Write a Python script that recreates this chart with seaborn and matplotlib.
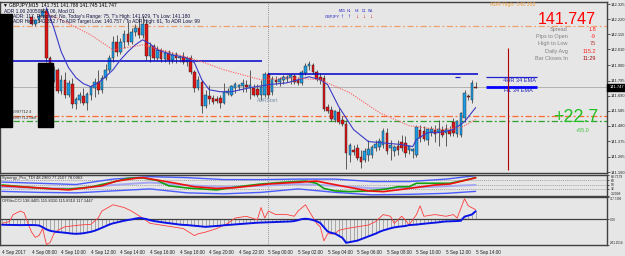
import numpy as np
import pandas as pd
import matplotlib
matplotlib.use("Agg")
import matplotlib.pyplot as plt
import seaborn as sns
from matplotlib.patches import Rectangle

# ---------------- data ----------------
bar_index = list(range(8, 129))
opens = [142.236, 142.187, 142.215, 142.242, 142.277, 141.952, 141.800, 141.869, 141.724, 141.800,
         141.697, 141.773, 141.634, 141.662, 141.690, 141.641, 141.697, 141.745, 141.786, 141.731,
         141.814, 141.869, 141.952, 142.063, 141.994, 142.063, 142.118, 142.063, 142.132, 142.160,
         142.111, 142.187, 141.966, 142.035, 141.952, 142.007, 141.945, 141.987, 141.938, 141.973,
         141.952, 141.959, 141.925, 141.952, 141.855, 141.745, 141.786, 141.621, 141.690, 141.676,
         141.669, 141.676, 141.641, 141.710, 141.697, 141.745, 141.752, 141.759, 141.766, 141.745,
         141.745, 141.738, 141.697, 141.697, 141.842, 141.717, 141.800, 141.786, 141.800, 141.807,
         141.814, 141.828, 141.800, 141.779, 141.849, 141.897, 141.904, 141.855, 141.821, 141.814,
         141.614, 141.593, 141.524, 141.579, 141.524, 141.496, 141.282, 141.316, 141.330, 141.268,
         141.247, 141.282, 141.282, 141.330, 141.337, 141.351, 141.434, 141.330, 141.303, 141.344,
         141.372, 141.365, 141.316, 141.303, 141.282, 141.455, 141.448, 141.386, 141.441, 141.455,
         141.441, 141.455, 141.434, 141.455, 141.510, 141.427, 141.420, 141.538, 141.690, 141.662,
         141.751]
highs = [142.249, 142.222, 142.256, 142.298, 142.298, 141.966, 141.897, 141.883, 141.835, 141.855,
         141.800, 141.814, 141.683, 141.717, 141.745, 141.717, 141.766, 141.814, 141.869, 141.835,
         141.911, 141.973, 142.104, 142.111, 142.090, 142.146, 142.201, 142.160, 142.187, 142.229,
         142.242, 142.215, 142.063, 142.049, 142.035, 142.021, 142.007, 142.007, 141.994, 141.994,
         141.973, 141.994, 141.966, 141.973, 141.869, 141.828, 141.800, 141.731, 141.766, 141.697,
         141.690, 141.697, 141.779, 141.745, 141.766, 141.786, 141.773, 141.807, 141.800, 141.869,
         141.773, 141.773, 141.800, 141.855, 141.855, 141.828, 141.828, 141.821, 141.835, 141.835,
         141.842, 141.842, 141.821, 141.869, 141.918, 141.929, 141.918, 141.869, 141.849, 141.835,
         141.634, 141.621, 141.593, 141.607, 141.551, 141.524, 141.365, 141.351, 141.358, 141.316,
         141.330, 141.386, 141.351, 141.386, 141.399, 141.469, 141.469, 141.386, 141.351, 141.386,
         141.420, 141.413, 141.351, 141.330, 141.489, 141.489, 141.482, 141.469, 141.482, 141.489,
         141.524, 141.482, 141.496, 141.482, 141.538, 141.524, 141.579, 141.731, 141.703, 141.800,
         141.788]
lows = [142.180, 142.173, 142.201, 142.229, 141.925, 141.773, 141.786, 141.710, 141.703, 141.676,
        141.683, 141.607, 141.600, 141.641, 141.627, 141.593, 141.662, 141.683, 141.703, 141.710,
        141.800, 141.855, 141.925, 141.966, 141.980, 142.021, 142.042, 142.049, 142.104, 142.090,
        142.090, 141.938, 141.925, 141.938, 141.938, 141.925, 141.925, 141.911, 141.918, 141.918,
        141.925, 141.911, 141.897, 141.842, 141.717, 141.731, 141.572, 141.607, 141.634, 141.634,
        141.641, 141.607, 141.634, 141.697, 141.690, 141.710, 141.731, 141.717, 141.717, 141.669,
        141.690, 141.683, 141.662, 141.683, 141.676, 141.697, 141.766, 141.759, 141.773, 141.786,
        141.773, 141.773, 141.766, 141.766, 141.835, 141.869, 141.842, 141.793, 141.773, 141.586,
        141.572, 141.517, 141.510, 141.496, 141.482, 141.180, 141.227, 141.282, 141.247, 141.192,
        141.227, 141.234, 141.261, 141.303, 141.316, 141.330, 141.289, 141.247, 141.275, 141.282,
        141.303, 141.268, 141.289, 141.261, 141.268, 141.372, 141.379, 141.351, 141.413, 141.372,
        141.344, 141.406, 141.344, 141.413, 141.413, 141.406, 141.406, 141.510, 141.662, 141.641,
        141.745]
closes = [142.187, 142.215, 142.242, 142.277, 141.952, 141.800, 141.869, 141.724, 141.800, 141.697,
          141.773, 141.634, 141.662, 141.690, 141.641, 141.697, 141.745, 141.786, 141.731, 141.814,
          141.869, 141.952, 142.063, 141.994, 142.063, 142.118, 142.063, 142.132, 142.160, 142.111,
          142.187, 141.966, 142.035, 141.952, 142.007, 141.945, 141.987, 141.938, 141.973, 141.952,
          141.959, 141.925, 141.952, 141.855, 141.745, 141.800, 141.621, 141.690, 141.669, 141.648,
          141.655, 141.641, 141.717, 141.724, 141.752, 141.766, 141.759, 141.773, 141.752, 141.759,
          141.697, 141.697, 141.745, 141.842, 141.697, 141.807, 141.786, 141.807, 141.821, 141.821,
          141.835, 141.786, 141.779, 141.855, 141.897, 141.911, 141.855, 141.807, 141.800, 141.600,
          141.586, 141.531, 141.579, 141.510, 141.496, 141.296, 141.344, 141.303, 141.261, 141.234,
          141.303, 141.316, 141.330, 141.351, 141.372, 141.441, 141.310, 141.344, 141.330, 141.316,
          141.330, 141.296, 141.337, 141.316, 141.469, 141.399, 141.393, 141.455, 141.455, 141.427,
          141.455, 141.420, 141.455, 141.427, 141.434, 141.510, 141.565, 141.710, 141.683, 141.773,
          141.747]

ma_fast_idx = [12, 14, 16, 18, 20, 22, 24, 26, 28, 30, 32, 34, 36, 38, 40, 42, 46, 50, 52, 54,
               56, 59, 62, 67, 72, 77, 83, 86, 88, 91, 95, 99, 102, 108, 111, 112, 115, 118, 122,
               125, 128]
ma_fast_val = [142.298, 142.160, 141.994, 141.883, 141.814, 141.773, 141.752, 141.779, 141.821,
               141.869, 141.938, 141.994, 142.042, 142.077, 142.049, 142.007, 141.973, 141.952,
               141.918, 141.800, 141.731, 141.717, 141.717, 141.745, 141.766, 141.779, 141.821,
               141.800, 141.766, 141.614, 141.455, 141.372, 141.365, 141.351, 141.337, 141.386,
               141.434, 141.434, 141.455, 141.510, 141.607]
ma_slow_idx = [12, 16, 24, 30, 38, 45, 54, 60, 70, 78, 86, 94, 102, 110, 118, 124, 128]
ma_slow_val = [142.256, 142.215, 142.111, 142.007, 142.042, 141.994, 141.925, 141.869, 141.800,
               141.814, 141.800, 141.710, 141.572, 141.482, 141.455, 141.469, 141.524]

level_names = ["upper_dd", "pivot_r", "pivot_g", "y_high", "d_line", "ema4h", "ema1h", "bid"]
level_vals = [142.173, 141.551, 141.517, 141.928, 141.842, 141.821, 141.752, 141.747]

price_ticks = [142.325, 142.220, 142.115, 142.010, 141.900, 141.795, 141.690, 141.585,
               141.480, 141.375, 141.265, 141.160]

tdi_green_idx = [0, 8, 14, 18, 24, 30, 34, 38, 42, 45, 50, 54, 58, 62, 66, 70, 76, 82, 85, 87,
                 90, 94, 99, 104, 107, 110, 112, 121, 124, 128]
tdi_green_val = [48, 38, 32, 31, 40, 60, 75, 77, 66, 45, 36, 32, 28, 37, 45, 52, 59, 64, 55, 34,
                 24, 21, 24, 32, 41, 41, 55, 55, 64, 78.1]
tdi_red_idx = [0, 9, 18, 27, 31, 36, 38, 42, 47, 52, 58, 63, 72, 81, 85, 88, 94, 99, 103, 108,
               112, 117, 121, 128]
tdi_red_val = [45, 37, 28, 45, 64, 75, 78, 68, 55, 41, 34, 37, 52, 60, 64, 55, 38, 24, 21, 30,
               38, 48, 52, 77.2]
tdi_band_idx = [0, 10, 20, 30, 40, 50, 60, 70, 80, 90, 100, 110, 120, 128]
tdi_upper = [60, 55, 50, 72, 82, 78, 70, 70, 72, 72, 62, 62, 72, 86]
tdi_lower = [22, 18, 16, 24, 32, 16, 12, 18, 32, 18, 8, 10, 14, 22]
tdi_mid = [40, 36, 33, 48, 58, 47, 40, 45, 52, 45, 35, 37, 43, 48.3]
tdi_levels = [68, 50, 32]

cci_idx = [0, 2, 3, 5, 6, 7, 8, 9, 10, 11, 12, 13, 14, 15, 17, 21, 24, 26, 27, 30, 33, 35, 38,
           40, 43, 46, 49, 52, 53, 55, 58, 61, 63, 66, 69, 70, 71, 72, 74, 77, 79, 80, 82, 83,
           85, 86, 87, 88, 90, 91, 93, 96, 99, 101, 103, 105, 106, 108, 109, 110, 112, 113, 114,
           117, 120, 122, 123, 125, 126, 128]
cci_val = [-55, -30, 69, 119, 94, -55, -179, -253, -228, -129, -352, -327, -203, -154, -104, -79,
           -69, 20, 119, 208, 169, 119, 20, -55, -79, -104, -129, -228, -203, -179, -129, -55,
           20, 45, -5, 169, 20, 119, 69, 69, 45, 119, 208, 119, -55, -104, -303, -203, -203,
           -154, -129, -104, -79, -30, 69, 45, -55, 45, -5, -79, 69, 193, 45, 69, 45, 69, 20,
           293, 193, 138.4]
cci_slow = [-75, -76, -78, -79, -80, -80, -79, -78, -79, -80, -85,
            -110, -140, -160, -170, -178, -182, -188, -195, -200,
            -203, -200, -195, -185, -175, -160, -140, -118, -95, -72,
            -55, -42, -30, -18, -8, 0, 12, 20, 15, 5,
            -10, -22, -30, -38, -45, -52, -60, -66, -72, -77,
            -79, -84, -90, -95, -100, -104, -100, -96, -92, -88,
            -82, -78, -74, -70, -66, -62, -58, -55, -50, -46,
            -44, -42, -40, -38, -36, -34, -32, -30, -28, -22,
            -10, 5, 10, 5, -8, -25, -50, -110, -170, -190,
            -200, -230, -260, -330, -320, -310, -300, -280, -260, -240,
            -220, -200, -175, -155, -140, -125, -112, -104, -98, -92,
            -80, -76, -72, -66, -60, -55, -50, -45, -40, -32,
            -28, -26, -24, -22, -18, 40, 55, 70, 117.1]

time_labels = ["4 Sep 2017", "4 Sep 08:00", "4 Sep 10:00", "4 Sep 12:00", "4 Sep 14:00",
               "4 Sep 16:00", "4 Sep 18:00", "4 Sep 20:00", "4 Sep 22:00", "5 Sep 00:00",
               "5 Sep 02:00", "5 Sep 04:00", "5 Sep 06:00", "5 Sep 08:00", "5 Sep 10:00",
               "5 Sep 12:00", "5 Sep 14:00"]
time_label_idx = list(range(0, 129, 8))

stat_labels = ["Spread", "Pips to Open", "High to Low", "Daily Avg", "Bar Closes In"]
stat_values = ["1.8", "-9", "75", "115.2", "11:29"]

# ---------------- style ----------------
BG = "#e6e6e6"
sns.set_style("white", rc={"axes.facecolor": BG, "figure.facecolor": BG,
                           "axes.edgecolor": "#404040"})
plt.rcParams["font.family"] = ["Liberation Sans", "DejaVu Sans"]

W, H = 625, 256
fig = plt.figure(figsize=(W / 100, H / 100), dpi=100)
fig.patch.set_facecolor(BG)


def fx(x):
    return x / W


def fy(y):
    return 1 - y / H


def ftext(x, y, s, **kw):
    kw.setdefault("va", "center")
    fig.text(fx(x), fy(y), s, **kw)


ax = fig.add_axes([0, fy(173), fx(607), (173 - 2) / H])
ax_tdi = fig.add_axes([0, fy(196), fx(607), (196 - 175) / H], sharex=ax)
ax_cci = fig.add_axes([0, fy(245), fx(607), (245 - 197) / H], sharex=ax)

for a in (ax, ax_tdi, ax_cci):
    a.set_facecolor(BG)
    for s in a.spines.values():
        s.set_color("#404040")
        s.set_linewidth(1.0)

XMIN, XMAX = -0.54, 163.5
ax.set_xlim(XMIN, XMAX)
ax.set_ylim(141.154, 142.339)

df = pd.DataFrame({"i": bar_index, "open": opens, "high": highs, "low": lows, "close": closes})
up = df["close"] >= df["open"]
dn = ~up

# horizontal levels
lv = dict(zip(level_names, level_vals))
ax.axhline(lv["bid"], color="#a8a8a8", lw=0.6, zorder=1)
ax.axhline(lv["upper_dd"], color="#f0a070", lw=0.9, ls=(0, (5, 2, 1.5, 2)), zorder=1)
ax.axhline(lv["pivot_r"], color="#ff6a30", lw=0.9, ls=(0, (5, 2, 1.5, 2)), zorder=1)
ax.axhline(lv["pivot_g"], color="#30a030", lw=0.9, ls=(0, (5, 2, 1.5, 2)), zorder=1)
ax.hlines(lv["y_high"], XMIN, 70.3, color="#0000c8", lw=1.1, zorder=4)
ax.hlines(lv["d_line"], 72, 128.7, color="#0000c8", lw=1.1, zorder=4)
ax.hlines(lv["ema4h"], 130.8, 144.6, color="#2020d0", lw=0.9, zorder=4)
ax.hlines(lv["ema1h"], 130.8, 144.6, color="#0000ff", lw=2.0, zorder=4)
ax.hlines(lv["ema4h"], 122.4, 123.8, color="#2020d0", lw=0.9, zorder=4)

# day separator
for a in (ax, ax_tdi, ax_cci):
    a.axvline(72, color="#7a7a7a", lw=0.6, ls=(0, (1, 1.5)), zorder=1)

# vertical red marker
ax.vlines(136.8, 141.178, 142.021, color="#b00000", lw=0.8, zorder=4)

# candles
ax.vlines(df["i"], df["low"], df["high"], color="#5a5a5a", lw=0.7, zorder=2)
ax.bar(df["i"][up], (df["close"] - df["open"])[up] + 0.0015, bottom=df["open"][up], width=0.7,
       color="#1d9ce6", edgecolor="#202020", linewidth=0.3, zorder=3)
ax.bar(df["i"][dn], (df["close"] - df["open"])[dn] - 0.0015, bottom=df["open"][dn], width=0.7,
       color="#e01414", edgecolor="#202020", linewidth=0.3, zorder=3)

# moving averages
sns.lineplot(x=ma_fast_idx, y=ma_fast_val, ax=ax, color="#3a3ac8", lw=0.8, zorder=5)
sns.lineplot(x=ma_slow_idx, y=ma_slow_val, ax=ax, color="#ff5a5a", lw=0.8, ls=(0, (1, 1.2)),
             zorder=5)

# price axis
ax.yaxis.tick_right()
ax.set_yticks(price_ticks)
ax.set_yticklabels([f"{p:.3f}" for p in price_ticks])
ax.tick_params(axis="y", labelsize=2.9, length=2, width=0.5, pad=1.0, colors="#202020")
ax.tick_params(axis="x", bottom=False, labelbottom=False)
ax.set_xlabel("")
ax.set_ylabel("")

# ---------- TDI panel ----------
ax_tdi.set_ylim(3.2098, 88.7179)
for lvl in tdi_levels:
    ax_tdi.axhline(lvl, color="#8a8a8a", lw=0.5, ls=(0, (1.5, 1.5)), zorder=1)
sns.lineplot(x=tdi_band_idx, y=tdi_upper, ax=ax_tdi, color="#4a5cff", lw=1.0)
sns.lineplot(x=tdi_band_idx, y=tdi_lower, ax=ax_tdi, color="#4a5cff", lw=1.0)
sns.lineplot(x=tdi_band_idx, y=tdi_mid, ax=ax_tdi, color="#a8a8f0", lw=1.4)
sns.lineplot(x=tdi_green_idx, y=tdi_green_val, ax=ax_tdi, color="#10a010", lw=1.2)
sns.lineplot(x=tdi_red_idx, y=tdi_red_val, ax=ax_tdi, color="#f01010", lw=1.2)
ax_tdi.yaxis.tick_right()
tdi_ticks = [88.7179, 68, 50, 32, 3.2098]
ax_tdi.set_yticks(tdi_ticks)
ax_tdi.set_yticklabels(["88.7179", "68", "50", "32", "3.2098"])
ax_tdi.tick_params(axis="y", labelsize=2.4, length=1.5, width=0.5, pad=1.0, colors="#202020")
tl = ax_tdi.get_yticklabels()
tl[0].set_verticalalignment("top")
tl[-1].set_verticalalignment("bottom")
ax_tdi.tick_params(axis="x", bottom=False, labelbottom=False)
ax_tdi.set_xlabel("")
ax_tdi.set_ylabel("")

# ---------- CCI panel ----------
ax_cci.set_ylim(-361.2514, 317.7306)
ax_cci.vlines(list(range(129)), 0, cci_slow, color="#8c8c8c", lw=0.5, zorder=1)
ax_cci.axhline(0, color="#404040", lw=0.9, zorder=2)
sns.lineplot(x=cci_idx, y=cci_val, ax=ax_cci, color="#ff3c3c", lw=0.6, zorder=3)
sns.lineplot(x=list(range(129)), y=cci_slow, ax=ax_cci, color="#0a14e6", lw=1.4, zorder=4)
ax_cci.yaxis.tick_right()
ax_cci.set_yticks([317.7306, 0, -361.2514])
ax_cci.set_yticklabels(["317.7306", "0.00", "-361.2514"])
ax_cci.tick_params(axis="y", labelsize=2.2, length=1.5, width=0.5, pad=0.8, colors="#202020")
cl = ax_cci.get_yticklabels()
cl[0].set_verticalalignment("top")
cl[-1].set_verticalalignment("bottom")
ax_cci.set_xticks(time_label_idx)
ax_cci.set_xticklabels(time_labels)
ax_cci.tick_params(axis="x", labelsize=3.3, length=2, width=0.5, pad=1.5, colors="#202020")
for lab in ax_cci.get_xticklabels():
    lab.set_horizontalalignment("left")
ax_cci.set_xlabel("")
ax_cci.set_ylabel("")
ax.set_xlim(XMIN, XMAX)

# ---------- decorations & texts ----------
fig.add_artist(Rectangle((fx(0), fy(127)), fx(12), (127 - 14) / H, color="black", zorder=6))
fig.add_artist(Rectangle((fx(38), fy(127)), fx(15), (127 - 63) / H, color="black", zorder=6))
fig.add_artist(Rectangle((fx(607), fy(91)), fx(18), 7 / H, color="black", zorder=6))
ftext(609.5, 87.5, "141.747", color="white", fontsize=2.9, zorder=7)

ftext(2, 5, "\u25bc", fontsize=3.5, color="black")
ftext(9, 5, "GBPJPY,M15  141.751 141.788 141.745 141.747", fontsize=3.5, color="black")
ftext(4, 11, "ADR 1.00 20050527 06, Mod 01", fontsize=3.5, color="#101040")
ftext(13, 16.5, "ADR: 117, Reached: No, Today's Range: 75, T's High: 141.929, T's Low: 141.180",
      fontsize=3.5, color="#101040")
ftext(13, 22, "ADR High: 142.352 / To ADR Target Low: 140.757 / To ADR High: 61, To ADR Low: 99",
      fontsize=3.5, color="#101040")

ftext(12, 112, "#997712 4", fontsize=3.0, color="#303030")
ftext(12, 118, "#997713 Sell", fontsize=3.0, color="#303030")

ftext(325, 17, "GBPJPY", fontsize=2.8, color="#2020c0")
for x, tf, c, arr in [(342, "M15", "#1010e0", "\u2191"), (349, "H1", "#1010e0", "\u2191"),
                      (357, "H4", "#e01010", "\u2193"), (364, "D1", "#e01010", "\u2193"),
                      (371, "W1", "#e01010", "\u2193")]:
    ftext(x, 11.5, tf, fontsize=2.6, color="#2020c0", ha="center")
    ftext(x, 16.5, arr, fontsize=4.5, color=c, ha="center", fontweight="bold")

ftext(257, 101, "ADRStart", fontsize=3.6, color="#7890a8")
ftext(503, 80, "4HR 34 EMA", fontsize=4.0, color="#2020c0")
ftext(504, 91, "H1 34 EMA", fontsize=4.0, color="#2020c0")

ftext(535, 4.5, "ADR High: 142.352", fontsize=3.8, color="#f0a040", ha="right")
ftext(596, 20, "141.747", fontsize=11.5, color="#ff0000", ha="right")
stat_colors = ["#ff2020", "#ff2020", "#b03030", "#ff2020", "#a01010"]
for k, (lab, val, col) in enumerate(zip(stat_labels, stat_values, stat_colors)):
    yy = 29.5 + 7.2 * k
    ftext(568, yy, lab, fontsize=4.0, color="#808080", ha="right")
    ftext(596, yy, val, fontsize=4.0, color=col, ha="right")

ftext(598, 117, "+22.7", fontsize=13, color="#22c022", ha="right")
ftext(590, 131, "+55.0", fontsize=4.0, color="#40c040", ha="right")

ftext(2, 178.5, "Synergy_Pro_TDI 48.2960 77.2107 78.0963", fontsize=3.0, color="#202020")
ftext(2, 200.5, "ORStoCCI 138.4405 115.8310 115.8310 117.1447", fontsize=3.0, color="#202020")

fig.savefig("out.png", dpi=100, facecolor=BG)
